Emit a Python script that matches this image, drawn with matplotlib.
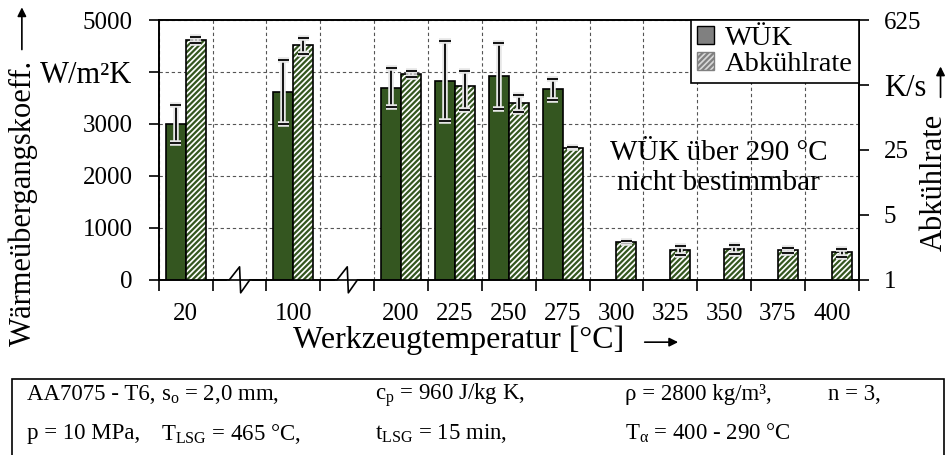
import matplotlib
matplotlib.use("Agg")
import matplotlib.pyplot as plt
import matplotlib.patches as mpatches
import matplotlib.patheffects as pe
import numpy as np

plt.rcParams['font.family'] = ['Liberation Serif', 'DejaVu Serif']
plt.rcParams['mathtext.fontset'] = 'custom'
plt.rcParams['mathtext.rm'] = 'Liberation Serif'
plt.rcParams['mathtext.it'] = 'Liberation Serif:italic'
plt.rcParams['hatch.linewidth'] = 1.6

# temperatures and their slot on the x axis (gaps = axis breaks)
temps = ['20', '100', '200', '225', '250', '275', '300', '325', '350', '375', '400']
slots = [0, 2, 4, 5, 6, 7, 8, 9, 10, 11, 12]
break_slots = [1, 3]

# heat transfer coefficient W/m²K (only up to 275 °C)
wuek = [3000, 3610, 3700, 3830, 3920, 3665]
wuek_err = [365, 620, 370, 770, 640, 205]

# cooling rate K/s
rate = [380, 337, 164, 122, 80.6, 26.5, 2.58, 2.10, 2.14, 2.07, 1.97]
rate_err = [30, 67, 12, 54, 17, 0.5, 0.06, 0.23, 0.23, 0.15, 0.2]

green = '#345620'
halo = [pe.Stroke(linewidth=4, foreground='#e6e6e6'), pe.Normal()]
fs_tick = 18
fs_lab = 22

fig = plt.figure(figsize=(9.51, 4.55), dpi=100)
ax = fig.add_axes([0.167, 0.385, 0.736, 0.571])
ax2 = ax.twinx()

w = 0.37
x = np.array(slots, dtype=float)

# WÜK bars
xw = x[:len(wuek)] - w / 2
ax.bar(xw, wuek, width=w, color=green, edgecolor='black', linewidth=1.2, zorder=3)
eb = ax.errorbar(xw, wuek, yerr=wuek_err, fmt='none', ecolor='black', elinewidth=1.3,
                 capsize=4, capthick=1.3, zorder=4)
for art in list(eb[1]) + list(eb[2]):
    art.set_path_effects(halo)

# cooling rate bars on log axis
xr = x + w / 2
rate = np.array(rate)
ax2.bar(xr, rate - 1, bottom=1, width=w, color='white', edgecolor=green, hatch='//////',
        linewidth=0, zorder=3)
ax2.bar(xr, rate - 1, bottom=1, width=w, color='none', edgecolor='black', linewidth=1.2, zorder=3)
eb2 = ax2.errorbar(xr, rate, yerr=rate_err, fmt='none', ecolor='black', elinewidth=1.3,
                   capsize=4, capthick=1.3, zorder=4)
for art in list(eb2[1]) + list(eb2[2]):
    art.set_path_effects(halo)

# axes limits and ticks
ax.set_xlim(-0.5, 12.5)
ax.set_ylim(0, 5000)
ax.set_xticks(slots)
ax.set_xticklabels(temps, fontsize=fs_tick)
ax.set_xticks(np.arange(-0.5, 13, 1), minor=True)
ax.tick_params(axis='x', which='major', length=0, pad=17)
ax.tick_params(axis='x', which='minor', length=8, width=1.2, direction='out')
ax.set_yticks([0, 1000, 2000, 3000, 4000, 5000])
ax.set_yticklabels(['0', '1000', '2000', '3000', 'W/m²K', '5000'], fontsize=fs_tick)
ax.get_yticklabels()[4].set_fontsize(fs_lab)
ax.tick_params(axis='y', length=7, width=1.2, pad=12)

ax2.set_yscale('log', base=5)
ax2.set_ylim(1, 625)
ax2.set_yticks([1, 5, 25, 125, 625])
ax2.set_yticklabels(['1', '5', '25', 'K/s', '625'], fontsize=fs_tick)
ax2.get_yticklabels()[3].set_fontsize(fs_lab)
ax2.yaxis.set_minor_locator(matplotlib.ticker.NullLocator())
ax2.tick_params(axis='y', length=7, width=1.2, pad=11)

# grid
ax.set_axisbelow(True)
ax.grid(True, axis='y', which='major', linestyle=(0, (3, 2.5)), color='#555555', linewidth=0.8)
ax.grid(True, axis='x', which='minor', linestyle=(0, (3, 2.5)), color='#555555', linewidth=0.8)
ax.grid(False, axis='x', which='major')

for a in (ax, ax2):
    for s in a.spines.values():
        s.set_linewidth(1.2)

# axis break marks on the x axis
for b in break_slots:
    ax.plot([b - 0.19, b + 0.19], [0, 0], color='white', linewidth=3, zorder=5,
            clip_on=False, transform=ax.get_xaxis_transform())
    ax.plot([b - 0.5, b - 0.19, b, b + 0.02, b + 0.19, b + 0.5],
            [0, 0, 0.05, -0.05, 0, 0], color='black', linewidth=1.2, zorder=6,
            clip_on=False, transform=ax.get_xaxis_transform())

ax2.text(9.9, 16, 'WÜK über 290 °C\nnicht bestimmbar', ha='center', va='center',
         fontsize=21, linespacing=1.2)

# legend
handles = [mpatches.Patch(facecolor='#808080', edgecolor='black', label='WÜK'),
           mpatches.Patch(facecolor='#d8d8d8', edgecolor='#808080', hatch='//////', label='Abkühlrate')]
leg = ax2.legend(handles=handles, loc='upper right', fontsize=20.5, frameon=True, fancybox=False,
                 edgecolor='black', framealpha=1, borderaxespad=0, handlelength=0.6,
                 handleheight=0.6, handletextpad=0.4, borderpad=0.2, labelspacing=0.05)
leg.get_frame().set_linewidth(1.2)

# axis labels with arrows
fig.text(0.024, 0.554, 'Wärmeübergangskoeff.', rotation=90, ha='center', va='center', fontsize=fs_lab)
fig.text(0.982, 0.598, 'Abkühlrate', rotation=90, ha='center', va='center', fontsize=fs_lab)
fig.text(0.482, 0.253, 'Werkzeugtemperatur [°C]', ha='center', va='center', fontsize=23)
arrow = dict(arrowstyle='-|>', color='black', linewidth=1.2, mutation_scale=13)
fig.add_artist(mpatches.FancyArrowPatch((0.023, 0.885), (0.023, 0.99), transform=fig.transFigure, **arrow))
fig.add_artist(mpatches.FancyArrowPatch((0.989, 0.78), (0.989, 0.86), transform=fig.transFigure, **arrow))
fig.add_artist(mpatches.FancyArrowPatch((0.675, 0.248), (0.716, 0.248), transform=fig.transFigure, **arrow))

# parameter box
fig.add_artist(mpatches.Rectangle((0.0126, -0.01), 0.98, 0.177, transform=fig.transFigure,
                                  facecolor='white', edgecolor='black', linewidth=1.2))
row1 = ['AA7075 - T6,', r's$_\mathrm{o}$ = 2,0 mm,', r'c$_\mathrm{p}$ = 960 J/kg K,',
        'ρ = 2800 kg/m³,', 'n = 3,']
row2 = ['p = 10 MPa,', r'T$_\mathrm{LSG}$ = 465 °C,', r't$_\mathrm{LSG}$ = 15 min,',
        r'T$_\mathrm{\alpha}$ = 400 - 290 °C']
cols = [0.028, 0.169, 0.394, 0.657, 0.871]
for c, s in zip(cols, row1):
    fig.text(c, 0.132, s, ha='left', va='center', fontsize=16.5)
for c, s in zip(cols, row2):
    fig.text(c, 0.047, s, ha='left', va='center', fontsize=16.5)

fig.savefig('out.png', dpi=100)
